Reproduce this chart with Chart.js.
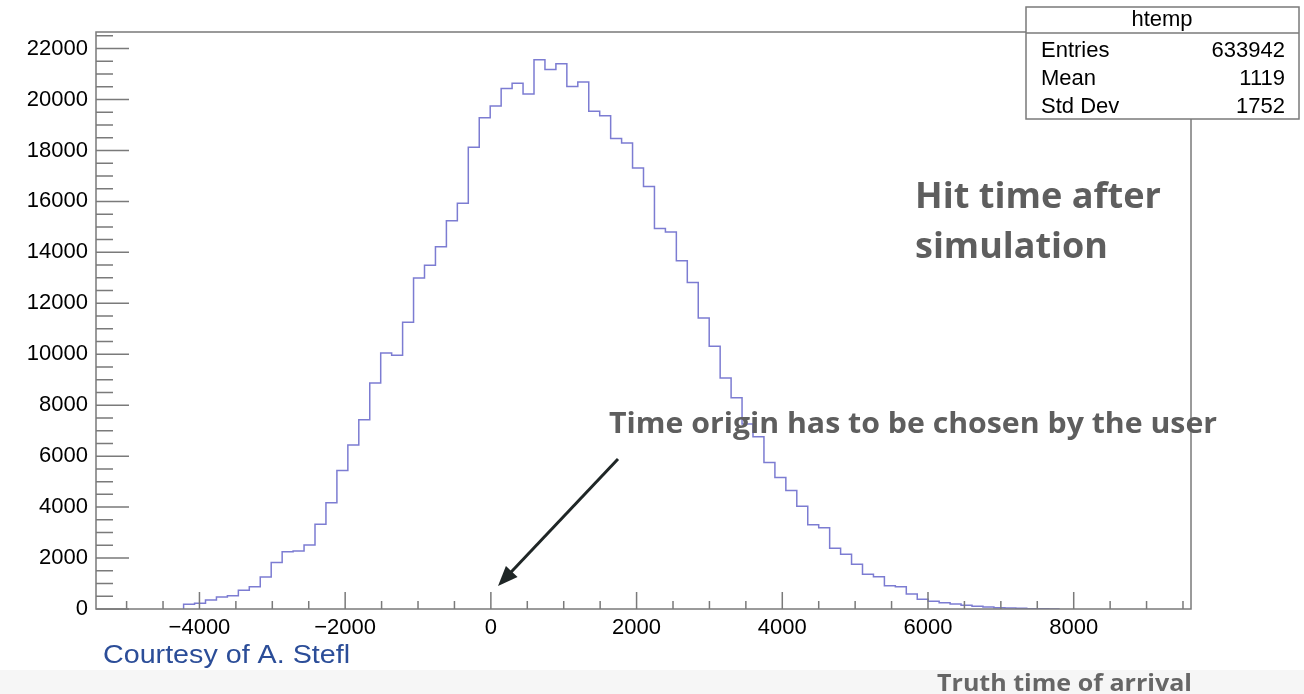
<!DOCTYPE html>
<html>
<head>
<meta charset="utf-8">
<script src="https://cdn.jsdelivr.net/npm/chart.js@4.4.1/dist/chart.umd.min.js"></script>
<style>
  html, body { margin: 0; padding: 0; background: #fff; }
  #wrap { position: relative; width: 1304px; height: 694px; }
</style>
</head>
<body>
<div id="wrap"><canvas id="histo" width="1304" height="694"></canvas></div>
<script>
// histogram "htemp": 100 bins, only the filled ones are listed
const binLow = -5420;
const binWidth = 150.3;
const firstBin = 8;
const counts = [
  130, 190, 230, 353, 470, 522, 733, 875, 1255, 1830,
  2250, 2275, 2510, 3330, 4175, 5440, 6440, 7430, 8875, 10050,
  9960, 11255, 12990, 13490, 14220, 15240, 15930, 18130, 19280, 19750,
  20430, 20640, 20220, 21560, 21180, 21400, 20510, 20690, 19540, 19360,
  18470, 18290, 17310, 16590, 14940, 14800, 13670, 12820, 11420, 10310,
  9070, 8290, 7260, 6760, 5750, 5160, 4650, 4030, 3310, 3190,
  2380, 2145, 1755, 1360, 1270, 914, 875, 588, 380, 302,
  247, 196, 145, 106, 78, 51, 39, 26, 13, 6
];
const xTicks = [-4000, -2000, 0, 2000, 4000, 6000, 8000];
const yTicks = [0, 2000, 4000, 6000, 8000, 10000, 12000, 14000, 16000, 18000, 20000, 22000];
const minorStep = 500;
const xRange = [-5420, 9610];
const yRange = [0, 22650];

const stats = [['Entries', '633942'], ['Mean', '1119'], ['Std Dev', '1752']];

// step outline: left edge of each bin, closed down to zero at both ends
const edge = (i) => binLow + i * binWidth;
const points = [{ x: edge(firstBin), y: 0 }];
counts.forEach((c, k) => points.push({ x: edge(firstBin + k), y: c }));
points.push({ x: edge(firstBin + counts.length), y: 0 });

const frameColor = '#7a7a7a';

function stretchText(ctx, text, x, y, size, weight, family, color, width) {
  ctx.font = `${weight} ${size}px ${family}`;
  const w = ctx.measureText(text).width;
  ctx.save();
  ctx.fillStyle = color;
  ctx.textBaseline = 'alphabetic';
  ctx.textAlign = 'left';
  ctx.translate(x, y);
  ctx.scale(width ? width / w : 1, 1);
  ctx.fillText(text, 0, 0);
  ctx.restore();
}

// ROOT-like frame with inward ticks
const frame = {
  id: 'frame',
  afterDatasetsDraw(chart) {
    const { ctx, chartArea: a, scales } = chart;
    const xs = scales.x, ys = scales.y;
    ctx.save();
    ctx.strokeStyle = frameColor;
    ctx.lineWidth = 1.5;
    ctx.strokeRect(a.left, a.top, a.right - a.left, a.bottom - a.top);

    ctx.beginPath();
    for (let v = Math.ceil(xRange[0] / minorStep) * minorStep; v <= xRange[1]; v += minorStep) {
      const px = xs.getPixelForValue(v);
      const len = xTicks.includes(v) ? 17 : 8;
      ctx.moveTo(px, a.bottom);
      ctx.lineTo(px, a.bottom - len);
    }
    for (let v = 0; v <= yRange[1]; v += minorStep) {
      const py = ys.getPixelForValue(v);
      const len = yTicks.includes(v) ? 33 : 17;
      ctx.moveTo(a.left, py);
      ctx.lineTo(a.left + len, py);
    }
    ctx.stroke();
    ctx.restore();
  },
  afterDraw(chart) {
    const { ctx } = chart;
    ctx.save();

    // stats box
    ctx.fillStyle = '#fff';
    ctx.fillRect(1026, 7, 273, 112);
    ctx.strokeStyle = frameColor;
    ctx.lineWidth = 1.5;
    ctx.strokeRect(1026, 7, 273, 112);
    ctx.beginPath();
    ctx.moveTo(1026, 33);
    ctx.lineTo(1299, 33);
    ctx.stroke();
    ctx.fillStyle = '#000';
    ctx.font = '22px "Liberation Sans", Arial, sans-serif';
    ctx.textBaseline = 'middle';
    ctx.textAlign = 'center';
    ctx.fillText('htemp', 1162, 20);
    stats.forEach(([k, v], i) => {
      const y = 51 + i * 28;
      ctx.textAlign = 'left';
      ctx.fillText(k, 1041, y);
      ctx.textAlign = 'right';
      ctx.fillText(v, 1285, y);
    });

    // annotations
    const bold = '"Open Sans", "Noto Sans", sans-serif';
    stretchText(ctx, 'Hit time after', 915, 208, 36, 700, bold, '#5e5e5e', 246);
    stretchText(ctx, 'simulation', 915, 258, 36, 700, bold, '#5e5e5e', 193);
    stretchText(ctx, 'Time origin has to be chosen by the user', 609, 433, 28, 700, bold, '#5e5e5e', 608);
    stretchText(ctx, 'Courtesy of A. Stefl', 103, 663, 25, 400, '"Liberation Sans", Arial, sans-serif', '#2b4d98', 247);
    stretchText(ctx, 'Truth time of arrival', 937, 691, 23, 700, bold, '#666', 255);

    // arrow
    const x0 = 618, y0 = 459, x1 = 498, y1 = 586;
    const ang = Math.atan2(y1 - y0, x1 - x0);
    ctx.strokeStyle = '#1f2626';
    ctx.fillStyle = '#1f2626';
    ctx.lineWidth = 3;
    ctx.beginPath();
    ctx.moveTo(x0, y0);
    ctx.lineTo(x1 - 14 * Math.cos(ang), y1 - 14 * Math.sin(ang));
    ctx.stroke();
    ctx.beginPath();
    ctx.moveTo(x1, y1);
    ctx.lineTo(x1 - 20 * Math.cos(ang) + 8 * Math.sin(ang), y1 - 20 * Math.sin(ang) - 8 * Math.cos(ang));
    ctx.lineTo(x1 - 20 * Math.cos(ang) - 8 * Math.sin(ang), y1 - 20 * Math.sin(ang) + 8 * Math.cos(ang));
    ctx.closePath();
    ctx.fill();
    ctx.restore();
  }
};

const bottomBand = {
  id: 'bottomBand',
  beforeDraw(chart) {
    const { ctx } = chart;
    ctx.save();
    ctx.fillStyle = '#f6f6f6';
    ctx.fillRect(0, 670, 1304, 24);
    ctx.restore();
  }
};

const tickFont = { family: '"Liberation Sans", Arial, sans-serif', size: 22 };
const minus = (v) => (v < 0 ? '\u2212' + Math.abs(v) : String(v));

new Chart(document.getElementById('histo').getContext('2d'), {
  type: 'line',
  data: {
    datasets: [{
      label: 'htemp',
      data: points,
      stepped: 'after',
      borderColor: '#7c7cd2',
      borderWidth: 1.5,
      pointRadius: 0,
      fill: false
    }]
  },
  options: {
    responsive: false,
    animation: false,
    layout: { padding: { left: 0, top: 32, right: 113, bottom: 45 } },
    scales: {
      x: {
        type: 'linear',
        min: xRange[0],
        max: xRange[1],
        afterBuildTicks: (s) => { s.ticks = xTicks.map((v) => ({ value: v })); },
        afterFit: (s) => { s.height = 40; },
        grid: { display: false, drawTicks: false },
        border: { display: false },
        ticks: { color: '#000', font: tickFont, padding: 6, maxRotation: 0, callback: minus }
      },
      y: {
        type: 'linear',
        min: yRange[0],
        max: yRange[1],
        afterBuildTicks: (s) => { s.ticks = yTicks.map((v) => ({ value: v })); },
        afterFit: (s) => { s.width = 96; },
        grid: { display: false, drawTicks: false },
        border: { display: false },
        ticks: { color: '#000', font: tickFont, padding: 8, callback: (v) => String(v) }
      }
    },
    plugins: { legend: { display: false }, tooltip: { enabled: false } }
  },
  plugins: [bottomBand, frame]
});
</script>
</body>
</html>
